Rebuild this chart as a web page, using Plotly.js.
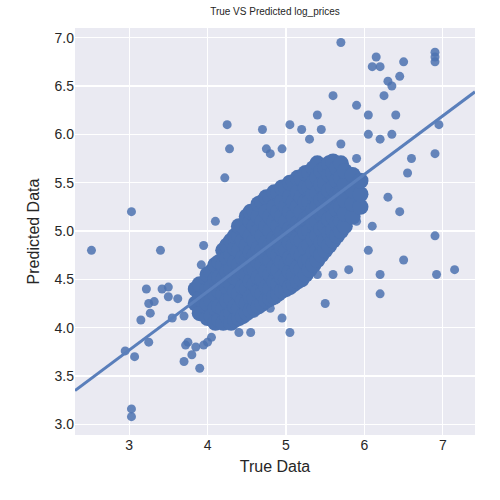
<!DOCTYPE html>
<html><head><meta charset="utf-8">
<script src="https://cdn.plot.ly/plotly-3.0.1.min.js"></script>
<style>html,body{margin:0;padding:0;background:#fff}#chart{width:500px;height:500px}</style>
</head><body><div id="chart"></div>
<script>
// scattered points
const outTrue = [2.52,3.03,3.03,3.03,2.95,3.07,3.25,3.15,3.27,3.25,3.22,3.32,3.40,3.42,3.50,3.62,3.55,3.50,3.70,3.75,3.72,3.70,3.80,3.90,3.85,3.95,4.00,4.05,4.08,3.92,3.95,4.10,4.22,4.25,4.28,4.35,4.40,4.55,4.60,4.80,4.95,5.05,4.75,4.70,4.80,4.95,5.05,5.20,5.40,5.45,5.60,5.70,5.90,6.05,6.05,6.10,6.15,6.20,6.25,6.30,6.35,6.40,6.45,6.50,6.90,6.90,6.90,6.90,6.95,6.92,7.15,6.90,6.45,6.30,6.50,6.20,6.20,6.10,6.05,5.90,5.80,5.50,5.60,5.40,6.55,6.60,6.35,6.20,5.90,5.70,5.30];
const outPred = [4.80,5.20,3.16,3.08,3.76,3.70,3.85,4.08,4.15,4.25,4.40,4.27,4.80,4.40,4.32,4.30,4.10,4.42,4.12,3.85,3.82,3.65,3.72,3.58,3.80,3.82,3.85,3.90,4.05,4.65,4.85,5.10,5.55,6.10,5.85,4.30,3.95,3.95,4.15,4.20,4.10,3.95,5.85,6.05,5.80,5.85,6.10,6.05,6.20,6.05,6.40,6.95,6.30,6.00,6.20,6.70,6.80,6.70,6.40,6.55,6.50,6.20,6.60,6.75,6.85,6.80,6.75,5.80,6.10,4.55,4.60,4.95,5.20,5.35,4.70,4.55,4.35,5.05,4.80,5.10,4.60,4.25,4.55,4.55,5.60,5.75,6.00,5.95,5.75,5.90,5.95];

// dense cloud, column by column (true value -> predicted values)
const colTrue = [3.85,3.9,4.0,4.05,4.1,4.15,4.2,4.25,4.3,4.35,4.4,4.45,4.5,4.55,4.6,4.65,4.7,4.75,4.8,4.85,4.9,4.95,5.0,5.05,5.1,5.15,5.2,5.25,5.3,5.35,5.4,5.45,5.5,5.55,5.6,5.65,5.7,5.75,5.85,5.95];
const colPred = [
  [4.25,4.40],
  [4.15,4.30,4.45],
  [4.10,4.25,4.40,4.55],
  [4.12,4.28,4.42,4.58],
  [4.05,4.20,4.35,4.50,4.65],
  [4.08,4.22,4.38,4.52,4.68],
  [4.05,4.20,4.35,4.50,4.65,4.80],
  [4.12,4.28,4.42,4.58,4.72,4.85],
  [4.05,4.15,4.30,4.45,4.60,4.75,4.90],
  [4.08,4.22,4.38,4.52,4.68,4.82,4.95],
  [4.10,4.20,4.35,4.50,4.65,4.80,4.95,5.05],
  [4.12,4.28,4.42,4.58,4.72,4.90,5.05],
  [4.15,4.25,4.40,4.55,4.70,4.85,5.00,5.15],
  [4.18,4.32,4.48,4.62,4.78,4.95,5.10,5.20],
  [4.20,4.30,4.45,4.60,4.75,4.90,5.05,5.20],
  [4.22,4.38,4.52,4.68,4.82,5.00,5.15,5.28],
  [4.25,4.35,4.50,4.65,4.80,4.95,5.10,5.30],
  [4.28,4.42,4.58,4.72,4.88,5.05,5.20,5.35],
  [4.30,4.40,4.55,4.70,4.85,5.00,5.15,5.35],
  [4.32,4.48,4.62,4.78,4.92,5.10,5.25,5.40],
  [4.35,4.45,4.60,4.75,4.90,5.05,5.20,5.40],
  [4.38,4.52,4.68,4.82,4.98,5.15,5.30,5.45],
  [4.40,4.50,4.65,4.80,4.95,5.10,5.25,5.45],
  [4.42,4.58,4.72,4.88,5.02,5.20,5.35,5.50],
  [4.45,4.55,4.70,4.85,5.00,5.15,5.30,5.50],
  [4.48,4.62,4.78,4.92,5.08,5.25,5.40,5.55],
  [4.50,4.60,4.75,4.90,5.05,5.20,5.35,5.55],
  [4.55,4.68,4.82,4.98,5.12,5.30,5.45,5.60],
  [4.60,4.70,4.85,5.00,5.15,5.30,5.45,5.60],
  [4.65,4.78,4.92,5.08,5.22,5.38,5.50,5.65],
  [4.70,4.80,4.95,5.10,5.25,5.40,5.55,5.70],
  [4.75,4.88,5.02,5.18,5.32,5.48,5.62],
  [4.80,4.90,5.05,5.20,5.35,5.50,5.65],
  [4.85,4.98,5.12,5.28,5.42,5.58,5.70],
  [4.90,5.00,5.15,5.30,5.45,5.60,5.72],
  [4.95,5.08,5.22,5.38,5.52,5.65],
  [5.00,5.10,5.25,5.40,5.55,5.70],
  [5.05,5.18,5.32,5.48,5.62],
  [5.15,5.28,5.42,5.58],
  [5.25,5.38,5.52]
];

// fitted regression line
const fitTrue = [2.31, 7.41];
const fitPred = [3.35, 6.44];

const cloudX = [], cloudY = [];
colTrue.forEach(function (x, i) {
  colPred[i].forEach(function (y) { cloudX.push(x); cloudY.push(y); });
});

const blue = '#4C72B0';
const traces = [
  { x: outTrue, y: outPred, type: 'scatter', mode: 'markers',
    marker: { color: blue, size: 9, opacity: 0.85 }, hoverinfo: 'skip' },
  { x: cloudX, y: cloudY, type: 'scatter', mode: 'markers',
    marker: { color: blue, size: 16, opacity: 1 }, hoverinfo: 'skip' },
  { x: fitTrue, y: fitPred, type: 'scatter', mode: 'lines',
    line: { color: '#5a7fbb', width: 3 } }
];

const axisCommon = {
  gridcolor: '#ffffff', gridwidth: 1.2, zeroline: false, showline: false,
  tickfont: { size: 14, color: '#262626' }, ticks: '', ticklen: 0
};

const layout = {
  width: 500, height: 500, showlegend: false,
  paper_bgcolor: '#ffffff', plot_bgcolor: '#EAEAF2',
  font: { family: 'Liberation Sans, Arial, sans-serif', color: '#262626' },
  margin: { l: 75, r: 25, t: 28, b: 65 },
  title: { text: 'True VS Predicted log_prices', font: { size: 10 }, x: 0.55, y: 0.985 },
  xaxis: Object.assign({}, axisCommon, {
    range: [2.31, 7.41], tickvals: [3, 4, 5, 6, 7],
    title: { text: 'True Data', font: { size: 16 }, standoff: 8 }
  }),
  yaxis: Object.assign({}, axisCommon, {
    range: [2.89, 7.10], tickvals: [3, 3.5, 4, 4.5, 5, 5.5, 6, 6.5, 7],
    ticktext: ['3.0','3.5','4.0','4.5','5.0','5.5','6.0','6.5','7.0'],
    title: { text: 'Predicted Data', font: { size: 16 }, standoff: 10 }
  })
};

Plotly.newPlot('chart', traces, layout, { staticPlot: true });
</script></body></html>
